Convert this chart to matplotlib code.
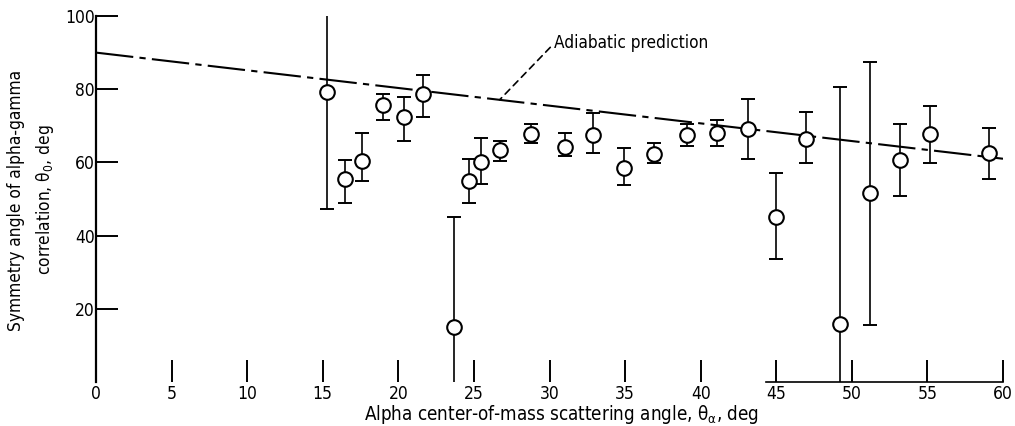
import matplotlib
matplotlib.use("Agg")
import matplotlib.pyplot as plt
import numpy as np

# condensed DejaVu face, closest to the narrow lettering of the original
plt.rcParams['font.family'] = ['DejaVu Sans']
plt.rcParams['font.stretch'] = 'condensed'
plt.rcParams['mathtext.fontset'] = 'dejavusans'

theta_alpha = [15.3, 16.5, 17.6, 19.0, 20.4, 21.6, 23.7, 24.7, 25.5, 26.7,
               28.8, 31.0, 32.9, 34.9, 36.9, 39.1, 41.1, 43.1, 45.0, 47.0,
               49.2, 51.2, 53.2, 55.2, 59.1]
theta_0 = [79.1, 55.4, 60.3, 75.6, 72.3, 78.6, 15.0, 54.8, 60.0, 63.3,
           67.7, 64.1, 67.6, 58.6, 62.4, 67.6, 68.0, 69.2, 45.1, 66.5,
           15.8, 51.6, 60.6, 67.7, 62.5]
err_high = [100.0, 60.6, 67.9, 78.8, 77.8, 84.0, 45.0, 60.8, 66.8, 65.8,
            70.4, 67.9, 73.4, 63.8, 65.2, 70.6, 71.7, 77.2, 57.1, 73.9,
            80.5, 87.3, 70.4, 75.3, 69.3]
err_low = [47.2, 48.9, 54.8, 71.7, 65.8, 72.3, 0.0, 48.8, 54.0, 60.3,
           65.2, 61.7, 62.5, 53.8, 59.7, 64.4, 64.4, 60.8, 33.5, 59.7,
           0.0, 15.6, 50.8, 59.7, 55.4]

# Adiabatic prediction line
adiabatic_x = [0, 60]
adiabatic_y = [90, 61]

x = np.array(theta_alpha)
y = np.array(theta_0)
hi = np.array(err_high)
lo = np.array(err_low)

fig = plt.figure(figsize=(10.15, 4.26), dpi=100)
ax = fig.add_axes([96 / 1015, 1 - 382 / 426, 907 / 1015, 366 / 426])

ax.plot(adiabatic_x, adiabatic_y, color='black', lw=1.5,
        linestyle=(0, (18, 3, 3, 3)), zorder=2)

# error bars: vertical lines, caps only where the bar ends inside the frame
ax.vlines(x, lo, hi, color='black', lw=1.2, zorder=3)
cap_hi = hi < 100
cap_lo = lo > 0
ax.plot(x[cap_hi], hi[cap_hi], linestyle='none', marker='_', ms=10,
        mew=1.4, color='black', zorder=3)
ax.plot(x[cap_lo], lo[cap_lo], linestyle='none', marker='_', ms=10,
        mew=1.4, color='black', zorder=3)
ax.plot(x, y, linestyle='none', marker='o', ms=10.5, mfc='white',
        mec='black', mew=1.5, zorder=4)

ax.annotate('Adiabatic prediction', xy=(26.7, 77.1), xytext=(30.3, 92.5),
            ha='left', va='center', fontsize=12.3,
            arrowprops=dict(arrowstyle='-', linestyle=(0, (4, 3)), lw=1.2,
                            color='black', relpos=(0, 0.5),
                            shrinkA=1, shrinkB=0))

ax.set_xlim(0, 60)
ax.set_ylim(0, 100)
ax.set_xticks(range(0, 61, 5))
ax.set_yticks(range(20, 101, 20))
ax.tick_params(axis='both', direction='in', length=16, width=1.4,
               labelsize=12.5, color='black')
ax.tick_params(axis='x', pad=2)
ax.tick_params(axis='y', pad=1)

for side in ['top', 'right']:
    ax.spines[side].set_visible(False)
ax.spines['left'].set_linewidth(1.6)
ax.spines['bottom'].set_linewidth(1.2)
ax.spines['bottom'].set_bounds(44.3, 60)

fig.text(31.5 / 1015, 1 - 200 / 426,
         'Symmetry angle of alpha-gamma\ncorrelation, θ$_0$, deg',
         rotation=90, ha='center', va='center', fontsize=12.4,
         linespacing=1.55)
fig.text(562 / 1015, 1 - 414 / 426,
         'Alpha center-of-mass scattering angle, θ$_{\\mathrm{α}}$, deg',
         ha='center', va='center', fontsize=13.5)

fig.savefig('out.png', dpi=100)
